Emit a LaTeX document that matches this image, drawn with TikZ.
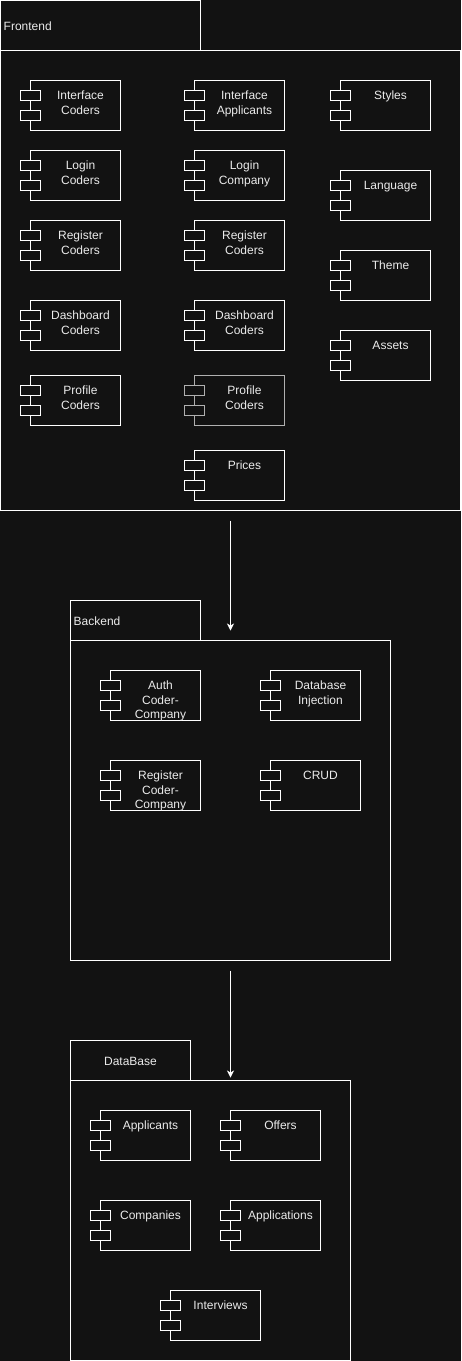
\documentclass[tikz,border=0pt]{standalone}
\usepackage{fontspec}
\setmainfont{Liberation Sans}
\usetikzlibrary{arrows.meta}
\definecolor{bg}{HTML}{121212}
\definecolor{fg}{HTML}{FFFFFF}
\definecolor{txt}{HTML}{EBEBEB}
\definecolor{dim}{HTML}{B0B0B0}
\tikzset{
  box/.style={draw=fg,line width=1pt,inner sep=0pt,outer sep=0pt,rectangle},
  body/.style={box,minimum width=90pt,minimum height=50pt},
  pinbox/.style={box,fill=bg,minimum width=20pt,minimum height=10pt},
  lbl/.style={text=txt,inner sep=0pt,align=center,font=\fontsize{12}{14.6}\selectfont},
  arr/.style={draw=fg,line width=1pt,-{Stealth[length=7pt,width=7pt,inset=2pt]}},
  greyed/.style={draw=dim,line width=1.3pt},
}
\newcommand\comp[5][]{%
  \node[body,#1] (#2) at (#3+55,#4+25) {};
  \node[pinbox,#1] (#2-a) at (#3+10,#4+15) {};
  \node[pinbox,#1] (#2-b) at (#3+10,#4+35) {};
  \node[lbl,anchor=north] (#2-t) at (#3+60,#4+10.3) {#5};
}
\begin{document}
\begin{tikzpicture}[x=1pt,y=-1pt]
\fill[bg] (0,0) rectangle (461,1361);
\useasboundingbox (0,0) rectangle (461,1361);
\begin{scope}[shift={(0.5,0.5)}]
% Frontend package
\node[box,minimum width=200pt,minimum height=50pt] (fronttab) at (100,25) {};
\node[box,minimum width=460pt,minimum height=460pt] (front) at (230,280) {};
\node[lbl,anchor=west] (frontlbl) at (3,26) {Frontend};
% column 1
\comp{ic}{20}{80}{Interface\\Coders}
\comp{lc}{20}{150}{Login\\Coders}
\comp{rc}{20}{220}{Register\\Coders}
\comp{dc}{20}{300}{Dashboard\\Coders}
\comp{pc}{20}{375}{Profile\\Coders}
% column 2
\comp{ia}{184}{80}{Interface\\Applicants}
\comp{lco}{184}{150}{Login\\Company}
\comp{rc2}{184}{220}{Register\\Coders}
\comp{dc2}{184}{300}{Dashboard\\Coders}
\comp[greyed]{pc2}{184}{375}{Profile\\Coders}
\comp{pr}{184}{450}{Prices}
% column 3
\comp{st}{330}{80}{Styles}
\comp{lang}{330}{170}{Language}
\comp{th}{330}{250}{Theme}
\comp{as}{330}{330}{Assets}
% Backend package
\node[box,minimum width=130pt,minimum height=40pt] (backtab) at (135,620) {};
\node[box,minimum width=320pt,minimum height=320pt] (back) at (230,800) {};
\node[lbl,anchor=west] (backlbl) at (73,621) {Backend};
\comp{auth}{100}{670}{Auth\\Coder-\\Company}
\comp{dbi}{260}{670}{Database\\Injection}
\comp{reg}{100}{760}{Register\\Coder-\\Company}
\comp{crud}{260}{760}{CRUD}
% DataBase package
\node[box,minimum width=120pt,minimum height=40pt] (dbtab) at (130,1060) {};
\node[box,minimum width=280pt,minimum height=280pt] (db) at (210,1220) {};
\node[lbl] (dblbl) at (130,1061) {DataBase};
\comp{appl}{90}{1110}{Applicants}
\comp{off}{220}{1110}{Offers}
\comp{comp}{90}{1200}{Companies}
\comp{apps}{220}{1200}{Applications}
\comp{intv}{160}{1290}{Interviews}
% connectors
\draw[arr] ([yshift=-10pt]front.south) -- ([yshift=10pt]back.north);
\draw[arr] ([yshift=-10pt]back.south) -- ([yshift=3pt]back.south |- db.north);
\end{scope}
\end{tikzpicture}
\end{document}
